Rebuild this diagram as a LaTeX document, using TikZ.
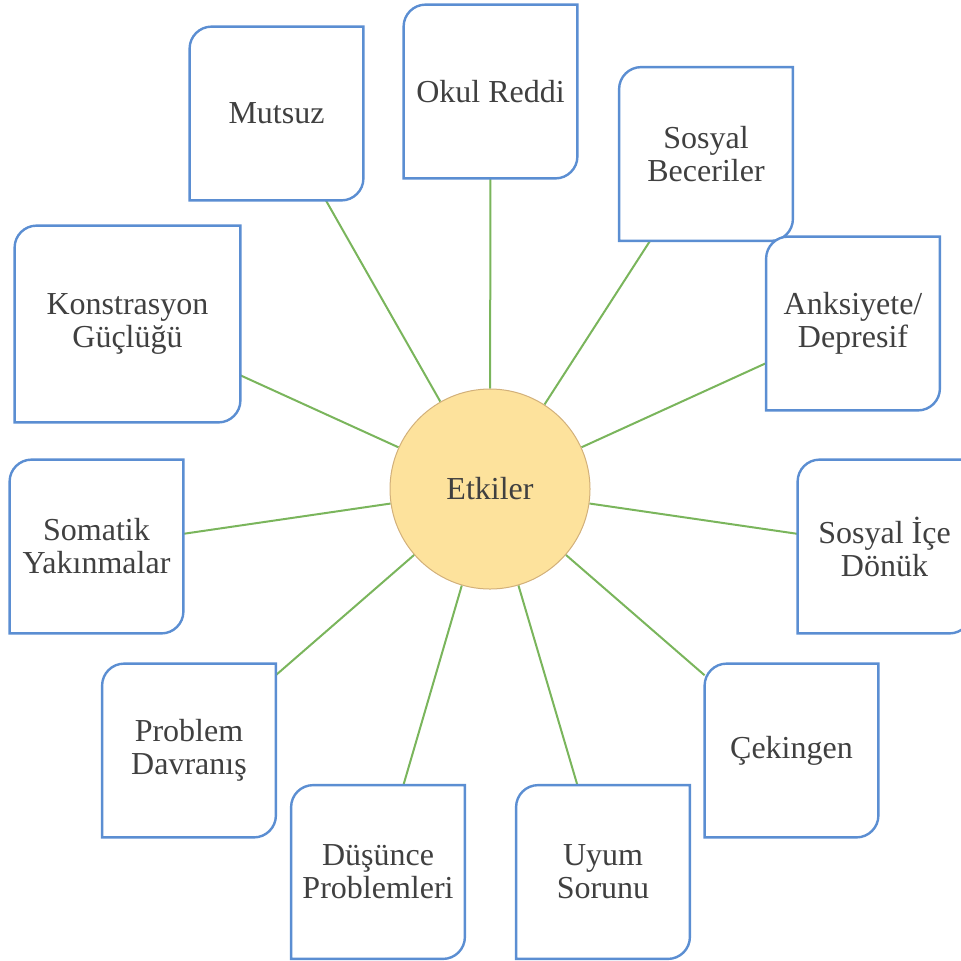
\documentclass[tikz,border=0pt]{standalone}
\usepackage{fontspec}
\setmainfont{Liberation Serif}
\usetikzlibrary{backgrounds}
\definecolor{txt}{HTML}{404040}
\definecolor{boxblue}{HTML}{5B8ED2}
\definecolor{lgreen}{HTML}{7AB55C}
\definecolor{sunfill}{HTML}{FDE29C}
\definecolor{sunedge}{HTML}{D2B07A}
\newcommand\diagbox[1]{\draw[boxline] (#1.south west) -- ([yshift=-11pt]#1.north west) arc[start angle=180,end angle=90,radius=11pt] -- (#1.north east) -- ([yshift=11pt]#1.south east) arc[start angle=0,end angle=-90,radius=11pt] -- cycle;}
\begin{document}
\begin{tikzpicture}[x=0.5pt,y=-0.5pt,
  box/.style={rectangle, minimum width=86.5pt, minimum height=86.5pt, inner sep=0pt, align=center, text=txt, font=\fontsize{16}{16.5}\selectfont},
  boxline/.style={draw=boxblue, line width=1.2pt, fill=white},
  conn/.style={draw=lgreen, line width=1pt},
  sun/.style={circle, minimum size=100pt, inner sep=0pt, fill=sunfill, draw=sunedge, line width=0.5pt, text=txt, font=\fontsize{16}{16.5}\selectfont}]
\useasboundingbox (0,0) rectangle (961,960);
\clip (0,0) rectangle (961,960);
\node[sun] (etk) at (490,489) {Etkiler};
\node[box] (b1) at (276.5,113.5) {Mutsuz};
\node[box] (b2) at (490.5,91.5) {Okul Reddi};
\node[box] (b3) at (706,154) {Sosyal\\Beceriler};
\node[box] (b4) at (853,323.5) {Anksiyete/\\Depresif};
\node[box] (b5) at (884.5,546.5) {Sosyal İçe\\Dönük};
\node[box] (b6) at (791.5,750.5) {Çekingen};
\node[box] (b7) at (603,872) {Uyum\\Sorunu};
\node[box] (b8) at (378,872) {Düşünce\\Problemleri};
\node[box] (b9) at (189,750.5) {Problem\\Davranış};
\node[box] (b10) at (96.5,546.5) {Somatik\\Yakınmalar};
\node[box, minimum width=112.5pt, minimum height=98pt] (b11) at (127.5,324) {Konstrasyon\\Güçlüğü};
\begin{scope}[on background layer]
\foreach \b in {b1,b2,b3,b4,b5,b6,b7,b8,b9,b10,b11}{
  \draw[conn] (etk) -- (\b);
}
\foreach \b in {b1,b2,b3,b4,b5,b6,b7,b8,b9,b10,b11}{
  \diagbox{\b}
}
\end{scope}
\end{tikzpicture}
\end{document}
